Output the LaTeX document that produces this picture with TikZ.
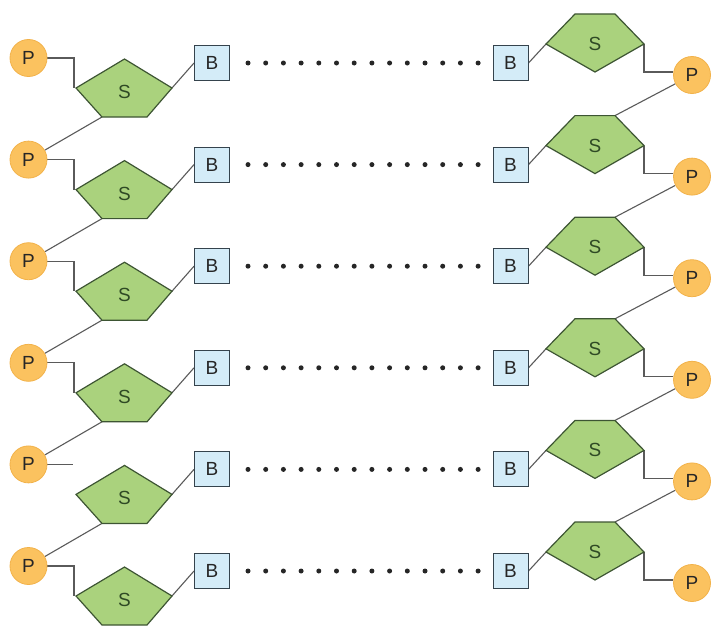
\documentclass[tikz,border=0pt]{standalone}
\usepackage{fontspec}
\setmainfont{Liberation Sans}
\definecolor{pfill}{HTML}{FBC25F}
\definecolor{pdraw}{HTML}{F2B24A}
\definecolor{sfill}{HTML}{AAD27D}
\definecolor{sdraw}{HTML}{3D5533}
\definecolor{stext}{HTML}{2F4A25}
\definecolor{bfill}{HTML}{D4ECF8}
\definecolor{bdraw}{HTML}{35434D}
\definecolor{linkc}{HTML}{5A5A5A}
\pgfdeclarelayer{background}
\pgfsetlayers{background,main}
\tikzset{
  lblfont/.style={font=\fontsize{19}{19}\selectfont},
  pnode/.style={circle, fill=pfill, draw=pdraw, line width=0.8pt, minimum size=37pt, inner sep=0pt, lblfont, text=black!85},
  bnode/.style={rectangle, fill=bfill, draw=bdraw, line width=1pt, minimum size=35pt, inner sep=0pt, lblfont, text=black!85},
  sugar/.style={fill=sfill, draw=sdraw, line width=1.2pt, line join=miter},
  slabel/.style={lblfont, text=stext, inner sep=0pt},
  linkline/.style={draw=linkc, line width=1.1pt},
  hbond/.style={fill=black!85}
}
\begin{document}
\begin{tikzpicture}[x=1pt,y=-1pt]
\useasboundingbox (0,0) rectangle (711,626);
\foreach \i in {0,...,5}{
  \pgfmathsetmacro{\yb}{63+101.6*\i}
  % left strand
  \coordinate (Lt\i)  at (124.5,\yb-4);
  \coordinate (Lr\i)  at (172,\yb+25);
  \coordinate (Lbr\i) at (147,\yb+54);
  \coordinate (Lbl\i) at (102,\yb+54);
  \coordinate (Ll\i)  at (76,\yb+25);
  \path[sugar] (Lt\i) -- (Lr\i) -- (Lbr\i) -- (Lbl\i) -- (Ll\i) -- cycle;
  \node[slabel] (SL\i) at (124.5,\yb+29) {S};
  \node[pnode] (PL\i) at (28.5,\yb-5) {P};
  \node[bnode] (BL\i) at (212,\yb) {B};
  % right strand
  \coordinate (Rtl\i) at (575,\yb-49);
  \coordinate (Rtr\i) at (615,\yb-49);
  \coordinate (Rr\i)  at (644,\yb-19);
  \coordinate (Rb\i)  at (595,\yb+9);
  \coordinate (Rl\i)  at (546,\yb-19);
  \path[sugar] (Rtl\i) -- (Rtr\i) -- (Rr\i) -- (Rb\i) -- (Rl\i) -- cycle;
  \node[slabel] (SR\i) at (595,\yb-19) {S};
  \node[bnode] (BR\i) at (510.5,\yb) {B};
  \node[pnode] (PR\i) at (692,\yb+12) {P};
  % hydrogen bonds
  \foreach \k in {0,...,13}{
    \fill[hbond] (248+17.7*\k,\yb) circle (2.5pt);
  }
}
% connectors, behind the shapes
\begin{pgfonlayer}{background}
\foreach \i in {0,...,5}{
  \draw[linkline] (Lr\i) -- (BL\i.west);
  \draw[linkline] (BR\i.east) -- (Rl\i);
  \draw[linkline] (Rr\i) |- ([yshift=3pt]PR\i.west);
}
\foreach \i in {0,1,2,3,5}{
  \draw[linkline] (PL\i.east) -| ([xshift=-2pt]Ll\i);
}
\draw[linkline] (PL4.east) -- ++(26,0);
\foreach \i in {0,...,4}{
  \pgfmathtruncatemacro{\j}{\i+1}
  \draw[linkline] (Lbl\i) -- (PL\j);
  \draw[linkline] (PR\i) -- (Rtr\j);
}
\end{pgfonlayer}
\end{tikzpicture}
\end{document}
